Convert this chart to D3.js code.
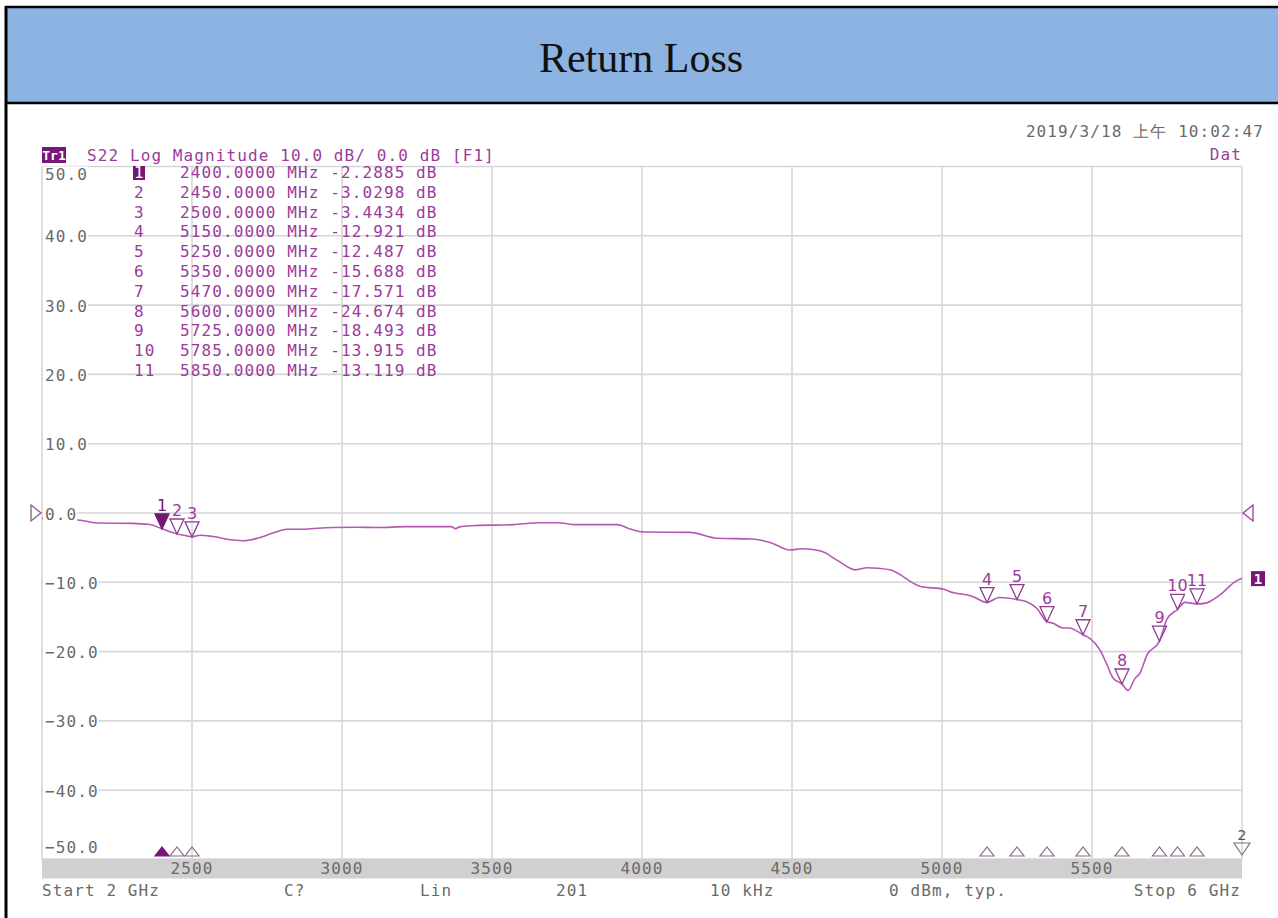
<!DOCTYPE html>
<html><head><meta charset="utf-8">
<script src="https://cdn.jsdelivr.net/npm/d3@7"></script>
<style>body{margin:0;background:#fff;} svg{display:block;}</style>
</head><body><svg id="c" width="1278" height="918"></svg>
<script>
// ---------- data ----------
const chartTitle = "Return Loss";
const headerText = "S22 Log Magnitude 10.0 dB/ 0.0 dB [F1]";
const dateText = "2019/3/18 上午 10:02:47";
const traceFreq = [2000,2060,2120,2190,2300,2360,2400,2450,2483,2500,2527,2570,2637,2670,2717,2750,2793,2817,2860,2917,2970,3050,3123,3212,3365,3378,3392,3430,3570,3660,3723,3777,3917,3960,4007,4160,4250,4365,4429,4493,4532,4596,4650,4711,4750,4788,4827,4929,5006,5027,5100,5150,5190,5250,5282,5316,5350,5370,5403,5423,5470,5493,5527,5547,5570,5600,5620,5643,5660,5683,5725,5750,5785,5810,5850,5879,5900,5933,5977,6000];
const traceDb = [-0.8,-0.9,-1.0,-1.45,-1.5,-1.65,-2.29,-3.03,-3.3,-3.44,-3.2,-3.4,-3.9,-4.0,-3.65,-3.2,-2.55,-2.35,-2.35,-2.2,-2.1,-2.05,-2.1,-1.97,-1.97,-2.26,-2.0,-1.83,-1.68,-1.4,-1.4,-1.68,-1.68,-2.3,-2.74,-2.8,-3.65,-3.75,-4.28,-5.34,-5.15,-5.48,-6.8,-8.2,-7.9,-7.98,-8.2,-10.6,-11.0,-11.35,-12.0,-12.92,-12.2,-12.49,-12.8,-13.75,-15.69,-15.9,-16.6,-16.6,-17.57,-18.1,-19.8,-21.6,-23.8,-24.67,-25.6,-23.9,-23.1,-20.5,-18.49,-15.3,-13.92,-12.9,-13.12,-13.0,-12.6,-11.6,-9.9,-9.4];
const markerIds = [1,2,3,4,5,6,7,8,9,10,11];
const markerFreq = [2400,2450,2500,5150,5250,5350,5470,5600,5725,5785,5850];
const markerDb = [-2.2885,-3.0298,-3.4434,-12.921,-12.487,-15.688,-17.571,-24.674,-18.493,-13.915,-13.119];
const yTicks = [50,40,30,20,10,0,-10,-20,-30,-40,-50];
const xTicks = [2500,3000,3500,4000,4500,5000,5500];
const xGrid = [2000,2500,3000,3500,4000,4500,5000,5500,6000];
const statusLabels = ["Start 2 GHz","C?","Lin","201","10 kHz","0 dBm, typ.","Stop 6 GHz"];

// ---------- layout ----------
const svg = d3.select("#c");
const x = d3.scaleLinear().domain([2000,6000]).range([42,1242]);
const y = d3.scaleLinear().domain([-50,50]).range([859.5,166.5]);
const MONO = "'DejaVu Sans Mono', monospace";
const FS = 16, LS = 1.1;
const PURPLE = "#9c3a9c", TRACE = "#b458b4", DARK = "#761676", GRAY = "#6a6a6a", GRID = "#d6d6d6";

// header band
svg.append("rect").attr("x",6).attr("y",7).attr("width",1272).attr("height",96).attr("fill","#8db3e2");
svg.append("line").attr("x1",5).attr("x2",1278).attr("y1",7).attr("y2",7).attr("stroke","#000").attr("stroke-width",2.5);
svg.append("line").attr("x1",5).attr("x2",1278).attr("y1",103).attr("y2",103).attr("stroke","#000").attr("stroke-width",2.5);
svg.append("line").attr("x1",6).attr("x2",6).attr("y1",6).attr("y2",918).attr("stroke","#000").attr("stroke-width",3);
svg.append("text").attr("x",641).attr("y",72).attr("text-anchor","middle")
  .attr("font-family","'Liberation Serif', 'Times New Roman', serif").attr("font-size",42).attr("fill","#111").text(chartTitle);

// grid
const g = svg.append("g");
g.selectAll(".hg").data(yTicks).join("line")
  .attr("x1",42).attr("x2",1242).attr("y1",d=>y(d)).attr("y2",d=>y(d))
  .attr("stroke",GRID).attr("stroke-width",1.6);
g.selectAll(".vg").data(xGrid).join("line")
  .attr("x1",d=>x(d)).attr("x2",d=>x(d)).attr("y1",y(50)).attr("y2",y(-50))
  .attr("stroke",GRID).attr("stroke-width",1.6);

// bottom band
svg.append("rect").attr("x",x(2000)).attr("y",y(-50)-1).attr("width",x(6000)-x(2000)).attr("height",20).attr("fill","#d0d0d0");
svg.selectAll(".xl").data(xTicks).join("text")
  .attr("x",d=>x(d)).attr("y",868).attr("dominant-baseline","central").attr("text-anchor","middle")
  .attr("font-family",MONO).attr("font-size",FS).attr("letter-spacing",LS).attr("fill",GRAY).text(d=>d);

// trace
const line = d3.line().x((d,i)=>x(traceFreq[i])).y((d,i)=>y(traceDb[i])).curve(d3.curveMonotoneX);
svg.append("path").datum(traceDb).attr("d",line).attr("fill","none").attr("stroke",TRACE).attr("stroke-width",1.6);

// y labels with white backing
const yl = svg.selectAll(".yl").data(yTicks).join("g");
yl.each(function(d){
  const gg = d3.select(this);
  const yy = d===50 ? 174 : d===-50 ? 847 : y(d)+1;
  const t = gg.append("text").attr("x",45).attr("y",yy).attr("dominant-baseline","central")
    .attr("font-family",MONO).attr("font-size",FS).attr("letter-spacing",LS).attr("fill",GRAY)
    .text(d3.format(".1f")(d));
  const bb = t.node().getBBox();
  gg.insert("rect","text").attr("x",43).attr("y",bb.y+2).attr("width",bb.width+2).attr("height",bb.height-4).attr("fill","#fff");
});

// header line text
svg.append("rect").attr("x",42).attr("y",147).attr("width",24).attr("height",16).attr("fill",DARK);
svg.append("text").attr("x",54).attr("y",160).attr("text-anchor","middle").attr("font-family",MONO).attr("font-size",13).attr("font-weight","bold").attr("fill","#fff").text("Tr1");
svg.append("text").attr("x",87).attr("y",161).attr("font-family",MONO).attr("font-size",FS).attr("letter-spacing",LS).attr("fill",PURPLE).text(headerText);
svg.append("text").attr("x",1264).attr("y",137).attr("text-anchor","end").attr("font-family",MONO).attr("font-size",FS).attr("letter-spacing",LS).attr("fill",GRAY).text(dateText);
svg.append("text").attr("x",1242).attr("y",160).attr("text-anchor","end").attr("font-family",MONO).attr("font-size",FS).attr("letter-spacing",LS).attr("fill",PURPLE).text("Dat");

// marker table
markerIds.forEach((id,i)=>{
  const by = 178 + i*19.8;
  if (i===0) {
    svg.append("rect").attr("x",133).attr("y",by-12).attr("width",12).attr("height",14).attr("fill",DARK);
  }
  svg.append("text").attr("x",134).attr("y",by).attr("font-family",MONO).attr("font-size",FS).attr("letter-spacing",LS)
    .attr("fill", i===0 ? "#fff" : PURPLE).text(id);
  const fTxt = markerFreq[i].toFixed(4) + " MHz " + markerDb[i].toPrecision(5) + " dB";
  svg.append("text").attr("x",180).attr("y",by).attr("font-family",MONO).attr("font-size",FS).attr("letter-spacing",LS)
    .attr("fill",PURPLE).text(fTxt);
});

// markers on trace
markerIds.forEach((id,i)=>{
  const mx = x(markerFreq[i]), my = y(markerDb[i]);
  svg.append("path").attr("d",`M${mx-7},${my-15}L${mx+7},${my-15}L${mx},${my}Z`)
    .attr("fill", i===0 ? DARK : "none").attr("stroke", i===0 ? DARK : "#8f3c8f").attr("stroke-width",1.3);
  svg.append("text").attr("x",mx).attr("y",my-18).attr("text-anchor","middle")
    .attr("font-family","'DejaVu Sans', sans-serif").attr("font-size",16).attr("fill", i===0 ? DARK : PURPLE).text(id);
  // bottom indicator
  const by = 856;
  svg.append("path").attr("d",`M${mx-7},${by}L${mx+7},${by}L${mx},${by-9}Z`)
    .attr("fill", i===0 ? DARK : "none").attr("stroke", i===0 ? DARK : "#8a6a8a").attr("stroke-width",1.2);
});

// stimulus indicator at right bottom
svg.append("path").attr("d",`M${x(6000)-8},${843}L${x(6000)+8},${843}L${x(6000)},${855}Z`).attr("fill","none").attr("stroke","#777").attr("stroke-width",1.2);
svg.append("text").attr("x",x(6000)).attr("y",840).attr("text-anchor","middle").attr("font-family","'DejaVu Sans', sans-serif").attr("font-size",14).attr("fill","#555").text("2");

// reference triangles
svg.append("path").attr("d",`M31,${y(0)-8}L41,${y(0)}L31,${y(0)+8}Z`).attr("fill","none").attr("stroke","#8a5a8a").attr("stroke-width",1.3);
svg.append("path").attr("d",`M1253,${y(0)-8}L1243,${y(0)}L1253,${y(0)+8}Z`).attr("fill","none").attr("stroke","#9c3a9c").attr("stroke-width",1.3);
// trace end label
svg.append("rect").attr("x",1251).attr("y",y(traceDb[traceDb.length-1])-7).attr("width",14).attr("height",15).attr("fill",DARK);
svg.append("text").attr("x",1258).attr("y",y(traceDb[traceDb.length-1])+6).attr("text-anchor","middle").attr("font-family",MONO).attr("font-weight","bold").attr("font-size",14).attr("fill","#fff").text("1");

// status line
const statusX = [42,284,420,556,710,889,1241];
statusLabels.forEach((s,i)=>{
  svg.append("text").attr("x",statusX[i]).attr("y",896).attr("text-anchor", i===statusLabels.length-1 ? "end" : "start")
    .attr("font-family",MONO).attr("font-size",FS).attr("letter-spacing",LS).attr("fill",GRAY).text(s);
});
</script></body></html>
